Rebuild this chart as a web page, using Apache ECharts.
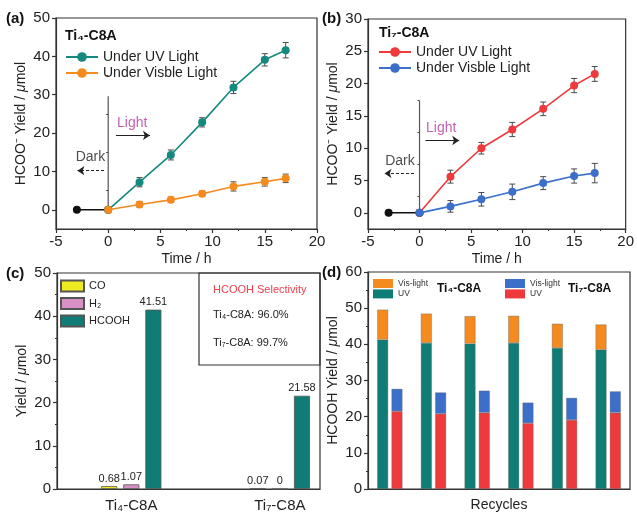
<!DOCTYPE html>
<html><head><meta charset="utf-8">
<script src="https://cdn.jsdelivr.net/npm/echarts@6/dist/echarts.min.js"></script>
<style>html,body{margin:0;padding:0;background:#fff}#c{width:637px;height:513px}</style>
</head><body><div id="c"></div>
<script>
const FONT = "'Liberation Sans', Arial, sans-serif";
// ---------- Panel (a) Ti4-C8A ----------
const timeA = [0, 3, 6, 9, 12, 15, 17];
const uvA = [0, 7.2, 14.3, 22.8, 31.9, 39.1, 41.6];
const uvAErr = [0, 1.2, 1.3, 1.2, 1.6, 1.6, 2.0];
const visA = [0, 1.4, 2.6, 4.2, 6.1, 7.3, 8.2];
const visAErr = [0, 0.7, 0.7, 0.7, 1.2, 1.1, 1.1];
const darkT = [-3, 0];
const darkY = [0, 0];
// ---------- Panel (b) Ti7-C8A ----------
const timeB = [0, 3, 6, 9, 12, 15, 17];
const uvB = [0, 5.6, 10.0, 12.9, 16.1, 19.7, 21.5];
const uvBErr = [0, 1.0, 0.9, 1.1, 1.05, 1.1, 1.15];
const visB = [0, 1.0, 2.1, 3.25, 4.6, 5.7, 6.15];
const visBErr = [0, 0.9, 1.05, 1.2, 1.0, 1.1, 1.5];
// annotations (data coords): separator top, light arrow, dark arrow, text positions
const annA = {sepTop: 29.6, light: [0.75, 4.0, 19.4], dark: [-0.4, -2.95, 10.2], lightTxt: [2.3, 22.6], darkTxt: [-1.7, 13.8]};
const annB = {sepTop: 17.3, light: [0.57, 3.85, 11.2], dark: [-0.54, -3.4, 6.1], lightTxt: [2.1, 13.1], darkTxt: [-1.9, 8.05]};
// ---------- Panel (c) ----------
const catsC = ['Ti\u2084-C8A', 'Ti\u2087-C8A'];
const posC = [1, 2];
const coC = [0.68, 0.07];
const h2C = [1.07, 0];
const hcoohC = [41.51, 21.58];
// ---------- Panel (d) ----------
const recycles = ['1', '2', '3', '4', '5', '6'];
const ti4UV = [41.3, 40.4, 40.2, 40.4, 39.0, 38.5];
const ti4Vis = [8.3, 8.1, 7.6, 7.5, 6.7, 7.0];
const ti7UV = [21.5, 20.8, 21.1, 18.2, 19.1, 21.1];
const ti7Vis = [6.2, 5.9, 6.1, 5.7, 6.1, 5.9];
// tick values
const aYTicks = [0, 10, 20, 30, 40, 50];
const aYMinor = [5, 15, 25, 35, 45];
const bYTicks = [0, 5, 10, 15, 20, 25, 30];
const bYMinor = [2.5, 7.5, 12.5, 17.5, 22.5, 27.5];

const TEAL = '#15897f', ORANGE = '#f58b1f', RED = '#ee3a3d', BLUE = '#3b6fca';
const BARTEAL = '#0f7d75', YELLOW = '#eeea22', PINK = '#d890c6';
const AX = '#333';

const zip = (xs, ys) => xs.map((x, i) => [x, ys[i]]);

function errSeries(xi, yi, xs, ys, es) {
  return {
    type: 'custom', xAxisIndex: xi, yAxisIndex: yi, z: 3, silent: true,
    data: xs.map((x, i) => [x, ys[i] - es[i], ys[i] + es[i]]).filter((d, i) => es[i] > 0),
    renderItem: (params, api) => {
      const lo = api.coord([api.value(0), api.value(1)]);
      const hi = api.coord([api.value(0), api.value(2)]);
      const w = 3, st = {stroke: '#4a4a4a', lineWidth: 1};
      return {type: 'group', children: [
        {type: 'line', shape: {x1: lo[0], y1: lo[1], x2: hi[0], y2: hi[1]}, style: st},
        {type: 'line', shape: {x1: lo[0] - w, y1: lo[1], x2: lo[0] + w, y2: lo[1]}, style: st},
        {type: 'line', shape: {x1: hi[0] - w, y1: hi[1], x2: hi[0] + w, y2: hi[1]}, style: st}
      ]};
    }
  };
}

function annSeries(xi, yi, ann) {
  return [
    {type: 'line', xAxisIndex: xi, yAxisIndex: yi, z: 1, silent: true, showSymbol: false,
     data: [[0, 0], [0, ann.sepTop]], lineStyle: {color: '#555', width: 1.2},
     markLine: {silent: true, animation: false, label: {show: false}, symbolSize: 7,
       data: [
         [{coord: [ann.light[0], ann.light[2]], symbol: 'none'}, {coord: [ann.light[1], ann.light[2]], symbol: 'arrow'}],
         [{coord: [ann.dark[0], ann.dark[2]], symbol: 'none', lineStyle: {type: [3, 2]}}, {coord: [ann.dark[1], ann.dark[2]], symbol: 'arrow'}]
       ],
       lineStyle: {color: '#222', width: 1, type: 'solid'}}},
    {type: 'scatter', xAxisIndex: xi, yAxisIndex: yi, symbolSize: 0, silent: true,
     data: [ann.lightTxt], label: {show: true, position: 'inside', formatter: 'Light', color: '#b8389e', fontSize: 14, fontFamily: FONT}},
    {type: 'scatter', xAxisIndex: xi, yAxisIndex: yi, symbolSize: 0, silent: true,
     data: [ann.darkTxt], label: {show: true, position: 'inside', formatter: 'Dark', color: '#222', fontSize: 14, fontFamily: FONT}}
  ];
}

const lbl = {fontSize: 15, color: '#222', fontFamily: FONT};
const axLine = {show: true, onZero: false, lineStyle: {color: AX, width: 1.2}};
const tick = {show: true, inside: false, length: 4, lineStyle: {color: AX, width: 1.2}};
const minor = {show: true, splitNumber: 2, length: 2, lineStyle: {color: AX, width: 1}};
const nameStyle = {fontSize: 14, color: '#222', fontFamily: FONT, rich: {i: {fontStyle: 'italic', fontSize: 14, color: '#222', fontFamily: FONT}}};

function timeX(gi) {
  return {gridIndex: gi, type: 'value', min: -5, max: 20, interval: 5,
    axisLine: axLine, axisTick: tick, minorTick: minor, splitLine: {show: false}, minorSplitLine: {show: false},
    axisLabel: Object.assign({margin: 5}, lbl),
    name: 'Time / h', nameLocation: 'middle', nameGap: 23, nameTextStyle: nameStyle};
}
function minorY(gi, min, max, vals) {
  return {gridIndex: gi, type: 'value', min, max, position: 'left', offset: 0,
    axisLine: {show: false}, axisLabel: {show: false}, splitLine: {show: false},
    axisTick: {show: true, length: 2, customValues: vals, lineStyle: {color: AX, width: 1}}};
}

const gridBase = {show: true, borderColor: AX, borderWidth: 1.2, backgroundColor: 'transparent', containLabel: false};

const option = {
  animation: false,
  textStyle: {fontFamily: FONT},
  grid: [
    Object.assign({left: 56, top: 18, width: 261, height: 211}, gridBase),
    Object.assign({left: 368, top: 19, width: 262, height: 210}, gridBase),
    Object.assign({left: 57, top: 273, width: 263, height: 216}, gridBase),
    Object.assign({left: 368, top: 272, width: 262, height: 217}, gridBase)
  ],
  xAxis: [
    timeX(0),
    timeX(1),
    {gridIndex: 2, type: 'value', min: 0.5, max: 2.27, axisLine: axLine, axisTick: {show: false}, splitLine: {show: false},
     axisLabel: Object.assign({margin: 9, customValues: posC, formatter: v => catsC[posC.indexOf(v)]}, lbl)},
    {gridIndex: 3, type: 'category', data: recycles, axisLine: axLine, axisTick: {show: false}, axisLabel: {show: false},
     name: 'Recycles', nameLocation: 'middle', nameGap: 9, nameTextStyle: nameStyle}
  ],
  yAxis: [
    {gridIndex: 0, type: 'value', min: -5, max: 50, axisLine: axLine, splitLine: {show: false},
     axisTick: Object.assign({customValues: aYTicks}, tick), axisLabel: Object.assign({customValues: aYTicks, margin: 6}, lbl),
     name: 'HCOO\u207B Yield / {i|\u03BC}mol', nameLocation: 'middle', nameGap: 28, nameTextStyle: nameStyle},
    {gridIndex: 1, type: 'value', min: -2.5, max: 30, axisLine: axLine, splitLine: {show: false},
     axisTick: Object.assign({customValues: bYTicks}, tick), axisLabel: Object.assign({customValues: bYTicks, margin: 6}, lbl),
     name: 'HCOO\u207B Yield / {i|\u03BC}mol', nameLocation: 'middle', nameGap: 28, nameTextStyle: nameStyle},
    {gridIndex: 2, type: 'value', min: 0, max: 50, interval: 10, axisLine: axLine, splitLine: {show: false},
     axisTick: tick, minorTick: minor, minorSplitLine: {show: false}, axisLabel: Object.assign({margin: 6}, lbl),
     name: 'Yield / {i|\u03BC}mol', nameLocation: 'middle', nameGap: 28, nameTextStyle: nameStyle},
    {gridIndex: 3, type: 'value', min: 0, max: 60, interval: 10, axisLine: axLine, splitLine: {show: false},
     axisTick: tick, minorTick: minor, minorSplitLine: {show: false}, axisLabel: Object.assign({margin: 6}, lbl),
     name: 'HCOOH Yield / {i|\u03BC}mol', nameLocation: 'middle', nameGap: 28, nameTextStyle: nameStyle},
    minorY(0, -5, 50, aYMinor),
    minorY(1, -2.5, 30, bYMinor)
  ],
  legend: [
    {left: 65, top: 50, padding: 0, orient: 'vertical', itemWidth: 32, itemHeight: 12, itemGap: 2,
     data: ['Under UV Light', 'Under Visble Light'], textStyle: {fontSize: 14, color: '#222', fontFamily: FONT}, selectedMode: false},
    {left: 378, top: 45, padding: 0, orient: 'vertical', itemWidth: 32, itemHeight: 12, itemGap: 2,
     data: ['Under UV Light ', 'Under Visble Light '], textStyle: {fontSize: 14, color: '#222', fontFamily: FONT}, selectedMode: false},
    {left: 60, top: 279.5, padding: 0, orient: 'vertical', itemWidth: 23, itemHeight: 11, itemGap: 4.5, icon: 'rect',
     data: ['CO', 'H\u2082', 'HCOOH'], textStyle: {fontSize: 11, color: '#222', fontFamily: FONT}, selectedMode: false},
    {left: 373, top: 279, padding: 0, orient: 'vertical', itemWidth: 20, itemHeight: 9, itemGap: 1.4, icon: 'rect', itemStyle: {borderWidth: 0},
     data: ['Vis-light', 'UV'], textStyle: {fontSize: 8.5, color: '#333', fontFamily: FONT}, selectedMode: false},
    {left: 505, top: 279, padding: 0, orient: 'vertical', itemWidth: 20, itemHeight: 9, itemGap: 1.4, icon: 'rect', itemStyle: {borderWidth: 0},
     data: ['Vis-light ', 'UV '], textStyle: {fontSize: 8.5, color: '#333', fontFamily: FONT}, selectedMode: false}
  ],
  series: [
    // ---- panel a ----
    ...annSeries(0, 0, annA),
    errSeries(0, 0, timeA, uvA, uvAErr),
    errSeries(0, 0, timeA, visA, visAErr),
    {type: 'line', name: 'dark-a', xAxisIndex: 0, yAxisIndex: 0, data: zip(darkT, darkY), symbol: 'circle', symbolSize: 8,
     itemStyle: {color: '#111'}, lineStyle: {color: '#111', width: 1.5}, z: 4},
    {type: 'line', name: 'Under UV Light', xAxisIndex: 0, yAxisIndex: 0, data: zip(timeA, uvA), symbol: 'circle', symbolSize: 8,
     itemStyle: {color: TEAL}, lineStyle: {color: TEAL, width: 1.6}, z: 5},
    {type: 'line', name: 'Under Visble Light', xAxisIndex: 0, yAxisIndex: 0, data: zip(timeA, visA), symbol: 'circle', symbolSize: 8,
     itemStyle: {color: ORANGE}, lineStyle: {color: ORANGE, width: 1.6}, z: 6},
    // ---- panel b ----
    ...annSeries(1, 1, annB),
    errSeries(1, 1, timeB, uvB, uvBErr),
    errSeries(1, 1, timeB, visB, visBErr),
    {type: 'line', name: 'dark-b', xAxisIndex: 1, yAxisIndex: 1, data: zip(darkT, darkY), symbol: 'circle', symbolSize: 8,
     itemStyle: {color: '#111'}, lineStyle: {color: '#111', width: 1.5}, z: 4},
    {type: 'line', name: 'Under UV Light ', xAxisIndex: 1, yAxisIndex: 1, data: zip(timeB, uvB), symbol: 'circle', symbolSize: 8,
     itemStyle: {color: RED}, lineStyle: {color: RED, width: 1.6}, z: 5},
    {type: 'line', name: 'Under Visble Light ', xAxisIndex: 1, yAxisIndex: 1, data: zip(timeB, visB), symbol: 'circle', symbolSize: 8,
     itemStyle: {color: BLUE}, lineStyle: {color: BLUE, width: 1.6}, z: 6},
    // ---- panel c ----
    ...[['CO', coC, YELLOW], ['H\u2082', h2C, PINK], ['HCOOH', hcoohC, BARTEAL]].map(([n, v, c]) => ({
      type: 'bar', name: n, xAxisIndex: 2, yAxisIndex: 2, data: zip(posC, v), barWidth: 16, barGap: '38%',
      itemStyle: {color: c, borderColor: '#555', borderWidth: 0.8},
      label: {show: true, position: 'top', distance: 2, fontSize: 11, color: '#222', fontFamily: FONT, formatter: p => p.value[1]}
    })),
    // ---- panel d ----
    {type: 'bar', name: 'UV', xAxisIndex: 3, yAxisIndex: 3, stack: 't4', data: ti4UV, barWidth: 11, barGap: '30%',
     itemStyle: {color: BARTEAL, borderColor: 'rgba(90,90,90,0.6)', borderWidth: 0.6}},
    {type: 'bar', name: 'Vis-light', xAxisIndex: 3, yAxisIndex: 3, stack: 't4', data: ti4Vis, barWidth: 11, barGap: '30%',
     itemStyle: {color: ORANGE, borderColor: 'rgba(90,90,90,0.6)', borderWidth: 0.6}},
    {type: 'bar', name: 'UV ', xAxisIndex: 3, yAxisIndex: 3, stack: 't7', data: ti7UV, barWidth: 11, barGap: '30%',
     itemStyle: {color: RED, borderColor: 'rgba(90,90,90,0.6)', borderWidth: 0.6}},
    {type: 'bar', name: 'Vis-light ', xAxisIndex: 3, yAxisIndex: 3, stack: 't7', data: ti7Vis, barWidth: 11, barGap: '30%',
     itemStyle: {color: BLUE, borderColor: 'rgba(90,90,90,0.6)', borderWidth: 0.6}}
  ],
  graphic: [
    {type: 'text', left: 6, top: 11, style: {text: '(a)', font: 'bold 15px ' + FONT, fill: '#111'}},
    {type: 'text', left: 322, top: 11, style: {text: '(b)', font: 'bold 15px ' + FONT, fill: '#111'}},
    {type: 'text', left: 6, top: 266, style: {text: '(c)', font: 'bold 15px ' + FONT, fill: '#111'}},
    {type: 'text', left: 322, top: 265, style: {text: '(d)', font: 'bold 15px ' + FONT, fill: '#111'}},
    {type: 'text', left: 65, top: 29, style: {text: 'Ti\u2084-C8A', font: 'bold 14px ' + FONT, fill: '#111'}},
    {type: 'text', left: 379, top: 26, style: {text: 'Ti\u2087-C8A', font: 'bold 14px ' + FONT, fill: '#111'}},
    {type: 'text', left: 437, top: 283, style: {text: 'Ti\u2084-C8A', font: 'bold 12px ' + FONT, fill: '#111'}},
    {type: 'text', left: 568, top: 283, style: {text: 'Ti\u2087-C8A', font: 'bold 12px ' + FONT, fill: '#111'}},
    {type: 'rect', shape: {x: 199, y: 273, width: 121, height: 92}, style: {fill: 'none', stroke: AX, lineWidth: 1.2}},
    {type: 'text', left: 213, top: 284, style: {text: 'HCOOH Selectivity', font: '11px ' + FONT, fill: '#f0404c'}},
    {type: 'text', left: 213, top: 309, style: {text: 'Ti\u2084-C8A: 96.0%', font: '11px ' + FONT, fill: '#222'}},
    {type: 'text', left: 213, top: 337, style: {text: 'Ti\u2087-C8A: 99.7%', font: '11px ' + FONT, fill: '#222'}}
  ]
};
const chart = echarts.init(document.getElementById('c'), null, {renderer: 'canvas'});
chart.setOption(option);
</script></body></html>
